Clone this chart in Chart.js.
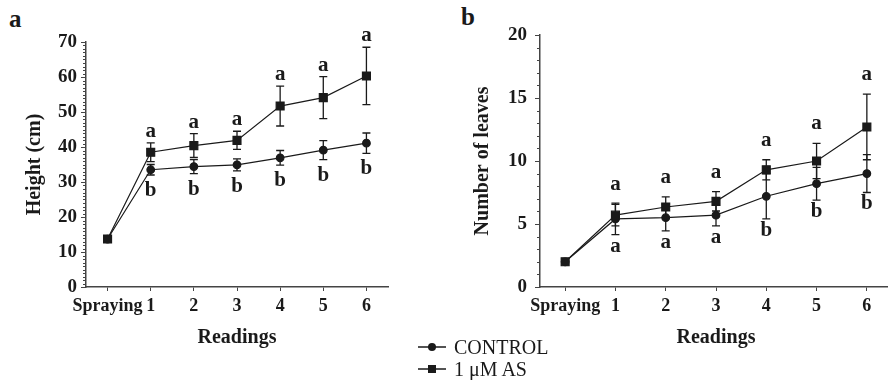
<!DOCTYPE html>
<html>
<head>
<meta charset="utf-8">
<script src="https://cdn.jsdelivr.net/npm/chart.js@4.4.0/dist/chart.umd.min.js"></script>
<style>
  body { margin: 0; width: 888px; height: 380px; overflow: hidden; background: #fff; position: relative;
         font-family: 'Liberation Serif', 'Times New Roman', serif; color: #1a1a1a; }
  #wrapA { position: absolute; left: 0; top: 0; }
  #wrapB { position: absolute; left: 440px; top: 0; }
  .panel { position: absolute; font-weight: bold; font-size: 25px; line-height: 1; }
  #legend { position: absolute; left: 418px; top: 336px; font-size: 20px; line-height: 22px; }
  #legend .row { display: flex; align-items: center; height: 22px; }
  #legend svg { margin-right: 8px; }
</style>
</head>
<body>
<div class="panel" style="left:9px; top:6px;">a</div>
<div class="panel" style="left:461px; top:4px;">b</div>
<div id="wrapA"><canvas id="chartA" width="420" height="360"></canvas></div>
<div id="wrapB"><canvas id="chartB" width="460" height="360"></canvas></div>
<div id="legend">
  <div class="row"><svg width="28" height="12"><line x1="0" y1="6" x2="28" y2="6" stroke="#1a1a1a" stroke-width="1.5"/><circle cx="14" cy="6" r="4" fill="#1a1a1a"/></svg><span>CONTROL</span></div>
  <div class="row"><svg width="28" height="12"><line x1="0" y1="6" x2="28" y2="6" stroke="#1a1a1a" stroke-width="1.5"/><rect x="10" y="2" width="8" height="8" fill="#1a1a1a"/></svg><span>1 μM AS</span></div>
</div>
<script>
var readings = ['Spraying', '1', '2', '3', '4', '5', '6'];

// plant height (cm), mean and error
var heightControl    = [13.7, 33.5, 34.4, 34.9, 36.9, 39.1, 41.1];
var heightControlErr = [0, 1.5, 2.0, 1.7, 2.1, 2.7, 2.9];
var heightAS         = [13.7, 38.5, 40.4, 41.9, 51.7, 54.1, 60.3];
var heightASErr      = [0, 2.7, 3.4, 2.6, 5.7, 6.0, 8.2];
var heightLetControl = ['', 'b', 'b', 'b', 'b', 'b', 'b'];
var heightLetAS      = ['', 'a', 'a', 'a', 'a', 'a', 'a'];

// number of leaves, mean and error
var leavesControl    = [2.0, 5.4, 5.5, 5.7, 7.2, 8.2, 9.0];
var leavesControlErr = [0, 1.25, 1.05, 0.85, 1.8, 1.3, 1.5];
var leavesAS         = [2.0, 5.7, 6.35, 6.8, 9.3, 10.0, 12.7];
var leavesASErr      = [0, 0.85, 0.8, 0.77, 0.8, 1.4, 2.6];
var leavesLetControl = ['', 'a', 'a', 'a', 'b', 'b', 'b'];
var leavesLetAS      = ['', 'a', 'a', 'a', 'a', 'a', 'a'];

var ink = '#1a1a1a';
var serif = "'Liberation Serif', 'Times New Roman', serif";

// error bars under the markers, significance letters on top
var errorBars = {
  id: 'errorBars',
  beforeDatasetsDraw: function(chart) {
    var ctx = chart.ctx, y = chart.scales.y;
    ctx.save();
    ctx.strokeStyle = ink;
    ctx.lineWidth = 1.3;
    chart.data.datasets.forEach(function(ds, di) {
      chart.getDatasetMeta(di).data.forEach(function(pt, i) {
        var e = ds.errors[i];
        if (!e) return;
        var top = y.getPixelForValue(ds.data[i] + e);
        var bot = y.getPixelForValue(ds.data[i] - e);
        ctx.beginPath();
        ctx.moveTo(pt.x, top); ctx.lineTo(pt.x, bot);
        ctx.moveTo(pt.x - 4, top); ctx.lineTo(pt.x + 4, top);
        ctx.moveTo(pt.x - 4, bot); ctx.lineTo(pt.x + 4, bot);
        ctx.stroke();
      });
    });
    ctx.restore();
  },
  afterDatasetsDraw: function(chart, args, opts) {
    var ctx = chart.ctx, y = chart.scales.y;
    ctx.save();
    ctx.fillStyle = ink;
    ctx.font = 'bold 21px ' + serif;
    ctx.textAlign = 'center';
    chart.data.datasets.forEach(function(ds, di) {
      chart.getDatasetMeta(di).data.forEach(function(pt, i) {
        var t = ds.letters[i];
        if (!t) return;
        if (ds.lettersAbove) {
          ctx.textBaseline = 'alphabetic';
          ctx.fillText(t, pt.x, y.getPixelForValue(ds.data[i] + ds.errors[i]) - opts.gapUp);
        } else {
          ctx.textBaseline = 'top';
          ctx.fillText(t, pt.x, y.getPixelForValue(ds.data[i] - ds.errors[i]) + opts.gapDown);
        }
      });
    });
    ctx.restore();
  }
};

// short minor ticks every unit on the value axis
var minorTicks = {
  id: 'minorTicks',
  afterDraw: function(chart) {
    var ctx = chart.ctx, y = chart.scales.y, x0 = chart.chartArea.left;
    ctx.save();
    ctx.strokeStyle = '#444';
    ctx.lineWidth = 1;
    ctx.beginPath();
    for (var v = y.min; v <= y.max; v++) {
      var py = Math.round(y.getPixelForValue(v)) + 0.5;
      ctx.moveTo(x0, py); ctx.lineTo(x0 - 3, py);
    }
    ctx.stroke();
    ctx.restore();
  }
};

function makeChart(id, o) {
  return new Chart(document.getElementById(id), {
    type: 'line',
    data: {
      labels: readings,
      datasets: [{
        label: '1 μM AS',
        data: o.as, errors: o.asErr, letters: o.asLet, lettersAbove: true,
        borderColor: ink, backgroundColor: ink, borderWidth: 1.2,
        pointStyle: 'rect', pointRadius: 5.6, tension: 0, fill: false
      }, {
        label: 'CONTROL',
        data: o.ctrl, errors: o.ctrlErr, letters: o.ctrlLet, lettersAbove: false,
        borderColor: ink, backgroundColor: ink, borderWidth: 1.2,
        pointStyle: 'circle', pointRadius: 3.8, tension: 0, fill: false
      }]
    },
    options: {
      responsive: false,
      animation: false,
      layout: { padding: o.pad },
      plugins: {
        legend: { display: false },
        tooltip: { enabled: false },
        errorBars: { gapUp: o.gapUp, gapDown: o.gapDown }
      },
      scales: {
        x: {
          offset: true,
          grid: { drawOnChartArea: false, tickLength: 4, color: '#444' },
          border: { color: '#444', width: 1.5 },
          ticks: { color: ink, font: { family: serif, size: 18, weight: 'bold' }, padding: 5, maxRotation: 0, autoSkip: false },
          title: { display: true, text: 'Readings', color: ink, font: { family: serif, size: 20, weight: 'bold' }, padding: { top: 4, bottom: 10 } },
          afterFit: function(s) { s.height = 73; }
        },
        y: {
          min: 0, max: o.max,
          grid: { drawOnChartArea: false, tickLength: 5, color: '#444' },
          border: { color: '#444', width: 1.5 },
          ticks: { stepSize: o.step, color: ink, font: { family: serif, size: 19, weight: 'bold' }, padding: o.tickPad },
          title: { display: true, text: o.yTitle, color: ink, font: { family: serif, size: 20, weight: 'bold' }, padding: { top: o.titlePad, bottom: 0 } },
          afterFit: function(s) { s.width = o.yWidth; }
        }
      }
    },
    plugins: [errorBars, minorTicks]
  });
}

makeChart('chartA', {
  as: heightAS, asErr: heightASErr, asLet: heightLetAS,
  ctrl: heightControl, ctrlErr: heightControlErr, ctrlLet: heightLetControl,
  max: 70, step: 10, yTitle: 'Height (cm)',
  pad: { top: 42, right: 32, bottom: 0, left: 0 },
  yWidth: 86, titlePad: 23, tickPad: 4, gapUp: 6, gapDown: 5
});

makeChart('chartB', {
  as: leavesAS, asErr: leavesASErr, asLet: leavesLetAS,
  ctrl: leavesControl, ctrlErr: leavesControlErr, ctrlLet: leavesLetControl,
  max: 20, step: 5, yTitle: 'Number of leaves',
  pad: { top: 35, right: 8, bottom: 0, left: 0 },
  yWidth: 100, titlePad: 31, tickPad: 8, gapUp: 14, gapDown: 1
});
</script>
</body>
</html>
